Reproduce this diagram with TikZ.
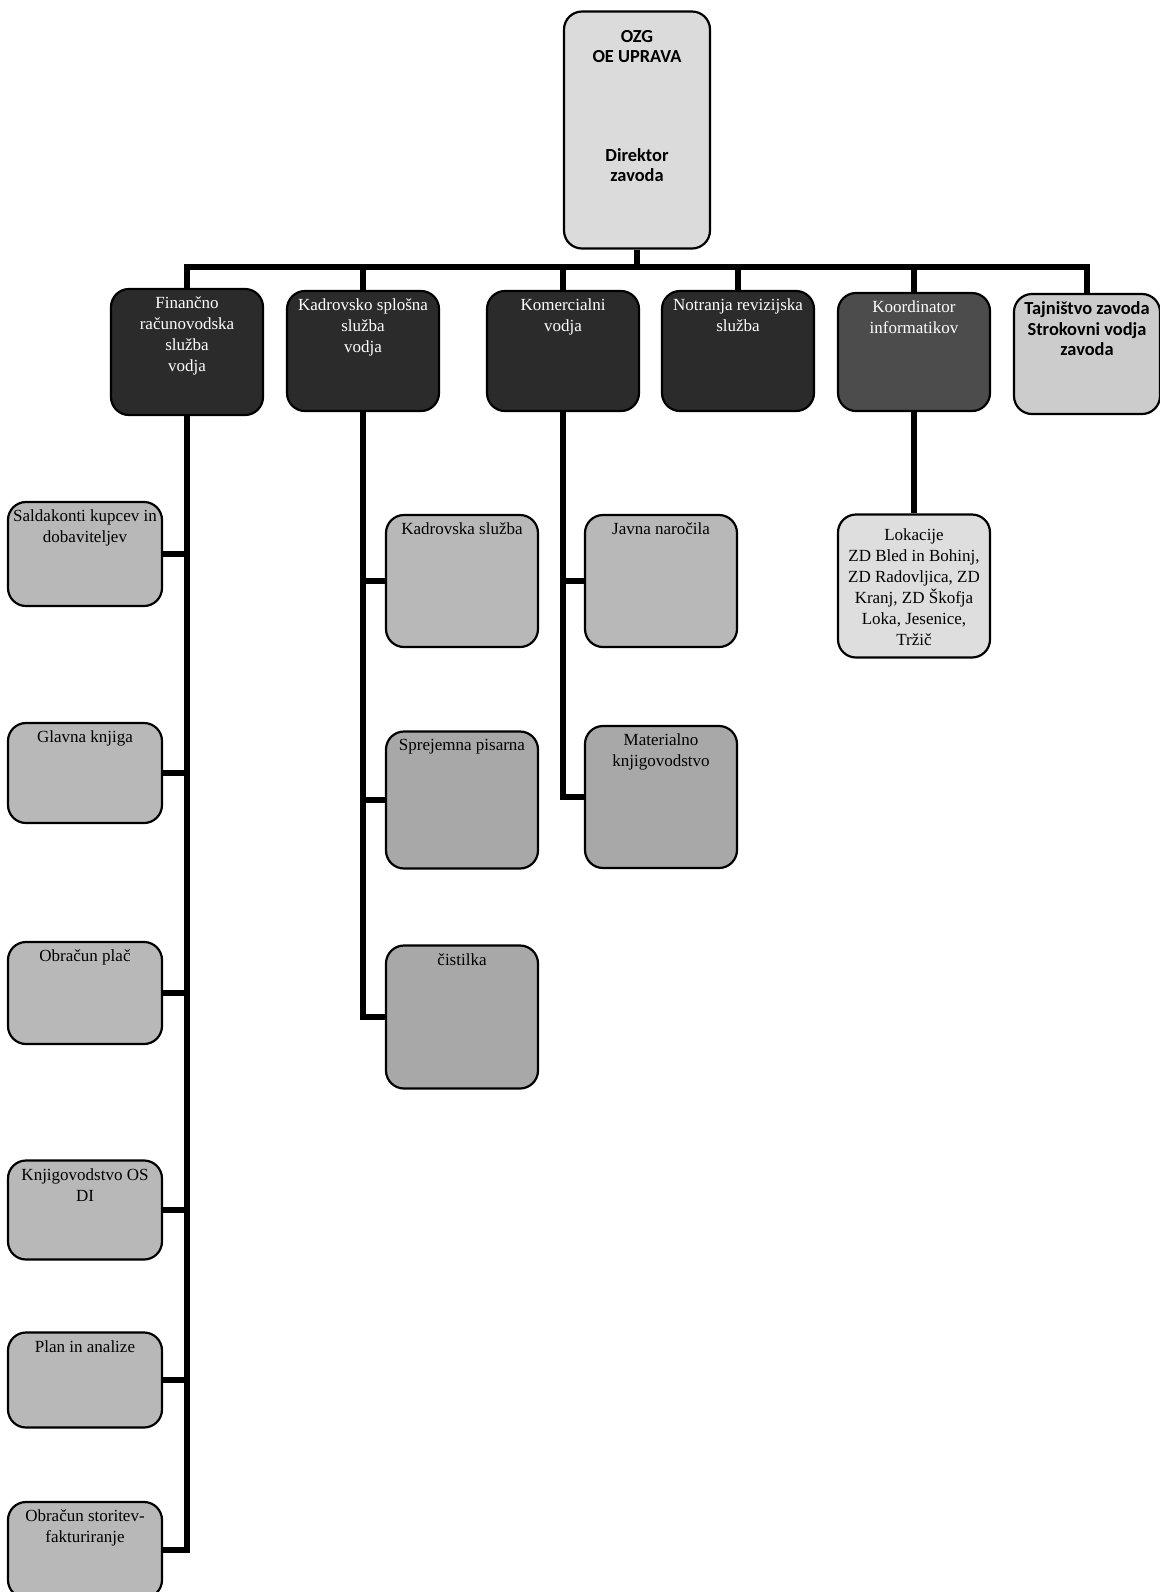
\documentclass[tikz,border=0pt]{standalone}
\usepackage{fontspec}
\setmainfont{Liberation Serif}
\newfontfamily\headfont{Carlito}
\usetikzlibrary{positioning}

\definecolor{topfill}{gray}{0.86}
\definecolor{darkfill}{gray}{0.17}
\definecolor{infofill}{gray}{0.3}
\definecolor{tajfill}{gray}{0.8}
\definecolor{subfill}{gray}{0.72}
\definecolor{subdark}{gray}{0.66}
\definecolor{lokfill}{gray}{0.87}

\newcommand{\cellbox}[3]{\parbox[c][#2][t]{#1}{\centering\vspace{4pt}#3}}

\begin{document}
\begin{tikzpicture}[x=0.5pt, y=-0.5pt,
  unit/.style={draw=black, line width=1.1pt, rounded corners=9pt, inner sep=0pt,
    font=\fontsize{8.5}{10.5}\selectfont},
  head/.style={unit, fill=darkfill, text=white},
  link/.style={line width=2.6pt}]
  \useasboundingbox (0,0) rectangle (1160,1592);

  \node[unit, fill=topfill, font=\headfont\bfseries\fontsize{9.2}{10.2}\selectfont] (top) at (637,130)
    {\cellbox{73pt}{118.5pt}{\vspace{5.5pt}OZG\\OE UPRAVA\\[39pt]Direktor\\zavoda}};

  \node[head] (fin) at (187,352) {\cellbox{76pt}{63pt}{Finančno\\računovodska\\služba\\vodja}};
  \node[head] (kad) at (363,351) {\cellbox{76pt}{60pt}{Kadrovsko splošna\\služba\\vodja}};
  \node[head] (kom) at (563,351) {\cellbox{76pt}{60pt}{Komercialni\\vodja}};
  \node[head] (rev) at (738,351) {\cellbox{76pt}{60pt}{Notranja revizijska\\služba}};
  \node[head, fill=infofill] (inf) at (914,352) {\cellbox{76pt}{59pt}{Koordinator\\informatikov}};
  \node[unit, fill=tajfill, font=\headfont\bfseries\fontsize{9.2}{10.2}\selectfont] (taj) at (1087,354)
    {\cellbox{73pt}{60pt}{Tajništvo zavoda\\Strokovni vodja\\zavoda}};

  \node[unit, fill=subfill] (sald) at (85,554) {\cellbox{77pt}{52pt}{Saldakonti kupcev in\\dobaviteljev}};
  \node[unit, fill=subfill] (glav) at (85,773) {\cellbox{77pt}{50pt}{Glavna knjiga}};
  \node[unit, fill=subfill] (plac) at (85,993) {\cellbox{77pt}{51pt}{Obračun plač}};
  \node[unit, fill=subfill] (knj) at (85,1210) {\cellbox{77pt}{49.5pt}{Knjigovodstvo OS\\DI}};
  \node[unit, fill=subfill] (plan) at (85,1380) {\cellbox{77pt}{47.5pt}{Plan in analize}};
  \node[unit, fill=subfill] (stor) at (85,1550) {\cellbox{77pt}{48pt}{Obračun storitev-\\fakturiranje}};

  \node[unit, fill=subfill] (kadsl) at (462,581) {\cellbox{76pt}{66pt}{Kadrovska služba}};
  \node[unit, fill=subdark] (spr) at (462,800) {\cellbox{76pt}{68.5pt}{Sprejemna pisarna}};
  \node[unit, fill=subdark] (cist) at (462,1017) {\cellbox{76pt}{71.5pt}{čistilka}};

  \node[unit, fill=subfill] (jav) at (661,581) {\cellbox{76pt}{66pt}{Javna naročila}};
  \node[unit, fill=subdark] (mat) at (661,797) {\cellbox{76pt}{71pt}{Materialno\\knjigovodstvo}};

  \node[unit, fill=lokfill] (lok) at (914,586)
    {\cellbox{76pt}{71.5pt}{\vspace{3pt}Lokacije\\ZD Bled in Bohinj,\\ZD Radovljica, ZD\\Kranj, ZD Škofja\\Loka, Jesenice,\\Tržič}};

  \coordinate (bus) at (637,267);
  \draw[link] (top.south) -- (bus);
  \draw[link] (fin.north) |- (bus) -| (taj.north);
  \draw[link] (kad.north) -- (kad.north |- bus);
  \draw[link] (kom.north) -- (kom.north |- bus);
  \draw[link] (rev.north) -- (rev.north |- bus);
  \draw[link] (inf.north) -- (inf.north |- bus);

  \draw[link] (fin.south) |- (stor.east);
  \draw[link] (sald.east) -- (sald.east -| fin.south);
  \draw[link] (glav.east) -- (glav.east -| fin.south);
  \draw[link] (plac.east) -- (plac.east -| fin.south);
  \draw[link] (knj.east) -- (knj.east -| fin.south);
  \draw[link] (plan.east) -- (plan.east -| fin.south);

  \draw[link] (kad.south) |- (cist.west);
  \draw[link] (kadsl.west) -- (kadsl.west -| kad.south);
  \draw[link] (spr.west) -- (spr.west -| kad.south);

  \draw[link] (kom.south) |- (mat.west);
  \draw[link] (jav.west) -- (jav.west -| kom.south);

  \draw[link] (inf.south) -- (lok.north);
\end{tikzpicture}
\end{document}
